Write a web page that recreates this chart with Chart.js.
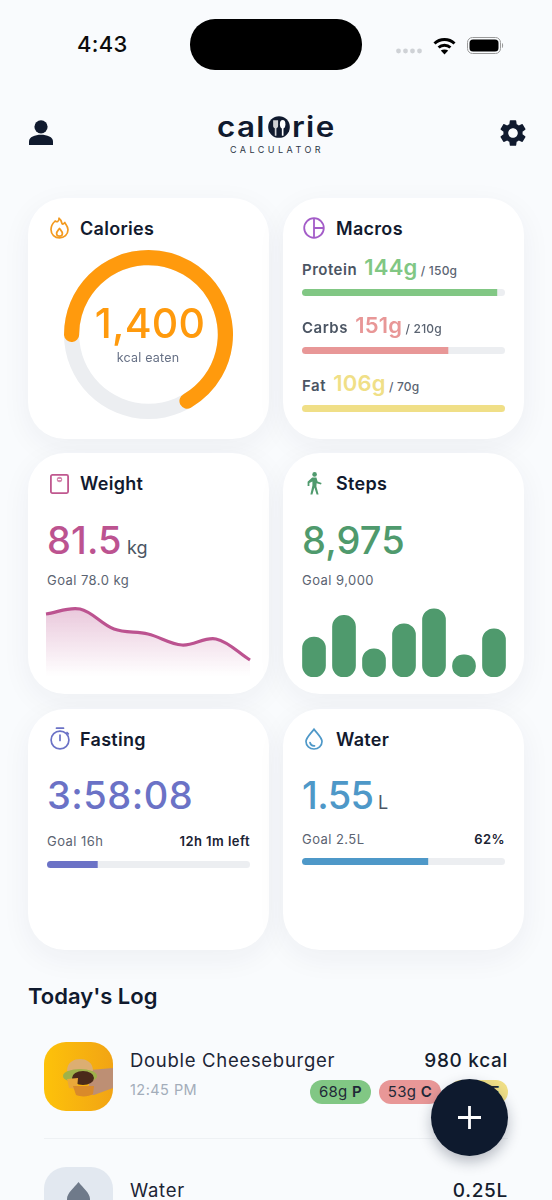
<!DOCTYPE html>
<html>
<head>
<meta charset="utf-8">
<script src="https://cdn.jsdelivr.net/npm/chart.js@4"></script>
<style>
  html, body { margin: 0; padding: 0; background: #f9fbfd; }
  body { width: 552px; height: 1200px; position: relative; overflow: hidden; font-family: Inter, "Noto Sans", sans-serif; color: #101a2e; }
  .t { position: absolute; white-space: nowrap; line-height: 1; }
  .r { text-align: right; }
  .card { position: absolute; width: 241px; height: 241px; background: #fff; border-radius: 37px; box-shadow: 0 8px 30px rgba(30, 45, 80, .055); }
  .title { font-size: 18px; font-weight: 600; letter-spacing: .3px; color: #121a2e; }
  .big { font-size: 38px; font-weight: 500; letter-spacing: .1px; }
  .unit { font-size: 18px; color: #4b5563; }
  .sub { font-size: 13px; color: #5b6472; letter-spacing: .45px; }
  .strong { font-size: 13px; font-weight: 600; color: #1b2333; letter-spacing: .45px; }
  .macro { font-size: 15px; font-weight: 600; color: #4b5563; letter-spacing: .5px; }
  .macro b { font-size: 22px; font-weight: 600; letter-spacing: .2px; margin: 0 0 0 3px; }
  .macro i { font-style: normal; font-size: 12px; font-weight: 500; color: #5b6472; letter-spacing: .2px; margin-left: -1px; }
  .pill { position: absolute; height: 24px; line-height: 24px; border-radius: 12px; font-size: 15px; text-align: center; color: #1f2937; letter-spacing: .3px; }
  .pill b { font-weight: 600; }
  canvas { position: absolute; display: block; }
  svg { position: absolute; overflow: visible; }
  .bar { border-radius: 3.5px; }
  .logo { font-size: 28px; font-weight: 600; letter-spacing: 1.2px; color: #101a2e; transform: scaleX(1.12); transform-origin: left; }
</style>
</head>
<body>

<!-- barra de estado -->
<div class="t" style="left:77px;top:33px;font-size:22px;font-weight:500;letter-spacing:.3px;color:#0c0c0c">4:43</div>
<div style="position:absolute;left:190px;top:19px;width:172px;height:51px;border-radius:25px;background:#000"></div>
<svg style="left:396px;top:48px" width="27" height="6"><g fill="#cfd2d6"><circle cx="2.5" cy="3" r="2.4"/><circle cx="9.5" cy="3" r="2.4"/><circle cx="16.5" cy="3" r="2.4"/><circle cx="23.5" cy="3" r="2.4"/></g></svg>
<svg style="left:433px;top:37px" width="23" height="18" viewBox="0 0 23 18"><g fill="none" stroke="#000" stroke-width="3"><path d="M1.5 6.5 C7 1.2 16 1.2 21.5 6.5"/><path d="M5.6 10.5 C8.8 7.6 14.2 7.6 17.4 10.5"/></g><path d="M11.5 17.5 L7.8 13.6 C9.8 12 13.2 12 15.2 13.6Z" fill="#000"/></svg>
<svg style="left:467px;top:37px" width="37" height="17"><rect x=".5" y=".5" width="33" height="16" rx="5" fill="none" stroke="#9a9a9a"/><rect x="2.5" y="2.5" width="29" height="12" rx="3.5" fill="#000"/><path d="M35 6 C36.5 6.5 36.5 10.5 35 11Z" fill="#9a9a9a"/></svg>

<!-- cabecera -->
<svg style="left:29px;top:120px" width="24" height="25" viewBox="0 0 24 25"><circle cx="12" cy="6.8" r="6.6" fill="#101a2e"/><path d="M0 25 V21.5 C0 17 6 14.8 12 14.8 S24 17 24 21.5 V25Z" fill="#101a2e"/></svg>
<div class="t logo" style="left:217px;top:113px">cal</div>
<svg style="left:268px;top:116px" width="22" height="22" viewBox="0 0 24 24"><circle cx="12" cy="12" r="11.8" fill="#101a2e"/><path d="M5.6 4.5 V11 C5.6 12.5 6.6 13 7.4 13.4 V21.5 H9.2 V13.4 C10 13 11 12.5 11 11 V4.5Z" fill="#fff" opacity=".8"/><ellipse cx="16" cy="9" rx="3" ry="4.6" fill="#fff"/><rect x="15.1" y="12" width="1.8" height="9.5" fill="#fff"/></svg>
<div class="t logo" style="left:292px;top:113px">rie</div>
<div class="t" style="left:230px;top:145px;font-size:9px;font-weight:400;letter-spacing:3.45px;color:#2d3646">CALCULATOR</div>
<svg style="left:497px;top:117px" width="32" height="32" viewBox="0 0 24 24"><path fill="#101a2e" d="M19.14 12.94c.04-.3.06-.61.06-.94 0-.32-.02-.64-.07-.94l2.03-1.58a.49.49 0 0 0 .12-.61l-1.92-3.32a.488.488 0 0 0-.59-.22l-2.39.96c-.5-.38-1.03-.7-1.62-.94l-.36-2.54a.484.484 0 0 0-.48-.41h-3.84c-.24 0-.43.17-.47.41l-.36 2.54c-.59.24-1.13.57-1.62.94l-2.39-.96c-.22-.08-.47 0-.59.22L2.74 8.87c-.12.21-.08.47.12.61l2.03 1.58c-.05.3-.09.63-.09.94s.02.64.07.94l-2.03 1.58a.49.49 0 0 0-.12.61l1.92 3.32c.12.22.37.29.59.22l2.39-.96c.5.38 1.03.7 1.62.94l.36 2.54c.05.24.24.41.48.41h3.84c.24 0 .44-.17.47-.41l.36-2.54c.59-.24 1.13-.56 1.62-.94l2.39.96c.22.08.47 0 .59-.22l1.92-3.32c.12-.22.07-.47-.12-.61l-2.01-1.58zM12 15.6c-1.98 0-3.6-1.62-3.6-3.6s1.62-3.6 3.6-3.6 3.6 1.62 3.6 3.6-1.62 3.6-3.6 3.6z"/></svg>

<!-- tarjetas -->
<div class="card" style="left:28px;top:198px"></div>
<div class="card" style="left:283px;top:198px"></div>
<div class="card" style="left:28px;top:453px"></div>
<div class="card" style="left:283px;top:453px"></div>
<div class="card" style="left:28px;top:709px"></div>
<div class="card" style="left:283px;top:709px"></div>

<!-- Calories -->
<svg style="left:50px;top:217px" width="19" height="22" viewBox="0 0 19 22"><g fill="none" stroke="#f39a1f" stroke-width="1.7" stroke-linejoin="round"><path d="M9 1.2 C9.5 4.5 6.5 5.5 5.2 4 C2.5 6.5 1 9 1 12.5 C1 17.5 4.8 20.8 9.5 20.8 S18 17.5 18 12.8 C18 9 15.5 7.5 14.8 5.5 C13.8 7 12.5 7.5 12 6.5 C11.5 4.5 11 2.5 9 1.2Z"/><path d="M9.5 11.5 C8 13.5 6.6 14.5 6.6 16.5 C6.6 18.2 8 19.2 9.5 19.2 S12.4 18.2 12.4 16.5 C12.4 14.5 11 13.5 9.5 11.5Z"/></g></svg>
<div class="t title" style="left:80px;top:220px">Calories</div>
<canvas id="calTrack" width="169" height="169" style="left:64px;top:250px"></canvas>
<canvas id="calRing" width="169" height="169" style="left:64px;top:250px"></canvas>
<div class="t" style="left:50px;width:200px;top:303px;text-align:center;font-size:41px;font-weight:500;letter-spacing:.2px;color:#ff9a0d">1,400</div>
<div class="t" style="left:48px;width:200px;top:352px;text-align:center;font-size:12.5px;letter-spacing:.2px;color:#667085">kcal eaten</div>

<!-- Macros -->
<svg style="left:303px;top:217px" width="22" height="22" viewBox="0 0 22 22"><g fill="none" stroke="#a35cc8" stroke-width="1.8"><circle cx="11" cy="11" r="9.8"/><path d="M11 1.2 V20.8 M11 11 H20.8"/></g></svg>
<div class="t title" style="left:336px;top:220px">Macros</div>
<div class="t macro" style="left:302px;top:256px">Protein <b style="color:#81c784">144g</b> <i>/ 150g</i></div>
<canvas id="barProtein" class="bar" width="203" height="7" style="left:302px;top:289px"></canvas>
<div class="t macro" style="left:302px;top:314px">Carbs <b style="color:#e89797">151g</b> <i>/ 210g</i></div>
<canvas id="barCarbs" class="bar" width="203" height="7" style="left:302px;top:347px"></canvas>
<div class="t macro" style="left:302px;top:372px">Fat <b style="color:#f0df87">106g</b> <i>/ 70g</i></div>
<canvas id="barFat" class="bar" width="203" height="7" style="left:302px;top:405px"></canvas>

<!-- Weight -->
<svg style="left:50px;top:474px" width="19" height="20" viewBox="0 0 19 20"><rect x=".9" y=".9" width="17.2" height="18.2" rx="1.5" fill="none" stroke="#c0588f" stroke-width="1.8"/><circle cx="9.5" cy="5.5" r="2.7" fill="#d58ab0"/><rect x="8" y="5" width="3" height="1" fill="#fff"/></svg>
<div class="t title" style="left:80px;top:475px">Weight</div>
<div class="t big" style="left:47px;top:521px;color:#bc5390">81.5</div>
<div class="t unit" style="left:127px;top:539px">kg</div>
<div class="t sub" style="left:47px;top:574px">Goal 78.0 kg</div>
<canvas id="weightLine" width="210" height="80" style="left:43px;top:600px"></canvas>

<!-- Steps -->
<svg style="left:306px;top:472px" width="17" height="23" viewBox="0 0 17 23"><circle cx="8.6" cy="2.4" r="2.3" fill="#4f9a6d"/><path d="M6.2 5.6 L10.4 5.6 L11.6 9.6 L15.6 11 L15 12.6 L10.6 11.2 L10.4 14.6 L12.6 22.6 L10.6 22.6 L8.4 15.6 L6.4 22.6 L4.4 22.6 L6.4 13.4 L6.4 9.6 L3.4 11 L3.4 14 L1.6 14 L1.6 9.8Z" fill="#4f9a6d"/></svg>
<div class="t title" style="left:336px;top:475px">Steps</div>
<div class="t big" style="left:302px;top:521px;color:#4f9a6d">8,975</div>
<div class="t sub" style="left:302px;top:574px">Goal 9,000</div>
<canvas id="stepsBars" width="210" height="72" style="left:298.5px;top:605px"></canvas>

<!-- Fasting -->
<svg style="left:50px;top:727px" width="20" height="23" viewBox="0 0 20 23"><g fill="none" stroke="#6b72c6" stroke-width="1.7"><circle cx="10" cy="13" r="8.9"/><path d="M6.5 1.2 H13.5 M10 8 V13.5 M17 5.5 L18.3 6.8" stroke-linecap="round"/></g></svg>
<div class="t title" style="left:80px;top:731px">Fasting</div>
<div class="t big" style="left:47px;top:776px;color:#6b72c6;letter-spacing:.5px">3:58:08</div>
<div class="t sub" style="left:47px;top:835px">Goal 16h</div>
<div class="t strong r" style="right:302px;top:835px">12h 1m left</div>
<canvas id="barFasting" class="bar" width="203" height="7" style="left:47px;top:861px"></canvas>

<!-- Water -->
<svg style="left:305px;top:728px" width="18" height="22" viewBox="0 0 18 22"><g fill="none" stroke="#4e98c8" stroke-width="1.7" stroke-linecap="round"><path d="M9 1.2 C6 5.5 1 9.5 1 13.5 C1 18 4.6 21 9 21 S17 18 17 13.5 C17 9.5 12 5.5 9 1.2Z"/><path d="M5 14.5 C5.5 16.8 7.5 18 9.5 17.8"/></g></svg>
<div class="t title" style="left:336px;top:731px">Water</div>
<div class="t big" style="left:302px;top:776px;color:#4e98c8;letter-spacing:-.6px">1.55</div>
<div class="t unit" style="left:378px;top:794px">L</div>
<div class="t sub" style="left:302px;top:833px">Goal 2.5L</div>
<div class="t strong r" style="right:47px;top:833px">62%</div>
<canvas id="barWater" class="bar" width="203" height="7" style="left:302px;top:858px"></canvas>

<!-- registro de hoy -->
<div class="t" style="left:28px;top:985px;font-size:22px;font-weight:600;color:#101a2e">Today's Log</div>

<svg style="left:44px;top:1042px" width="69" height="69" viewBox="0 0 69 69">
  <defs><clipPath id="thumb"><rect width="69" height="69" rx="22"/></clipPath><linearGradient id="yel" x1="0" y1="0" x2="1" y2="0"><stop offset="0" stop-color="#fdc20a"/><stop offset="1" stop-color="#f2a414"/></linearGradient></defs>
  <g clip-path="url(#thumb)">
    <rect width="69" height="69" fill="url(#yel)"/>
    <path d="M46 28 L69 26 V46 L50 53 L44 52Z" fill="#bd8f74"/>
    <path d="M23 29 C23 20 30 17 36 17 S49 20 49 29Z" fill="#dcae72"/>
    <ellipse cx="36" cy="34" rx="17" ry="7" fill="#9fb24a"/>
    <ellipse cx="39" cy="36" rx="11" ry="7" fill="#4a2a1a"/>
    <path d="M23 37 L34 36 L33 47 L25 46Z" fill="#eaa83a"/>
    <path d="M29 44 H50 L49 52 C45 55 36 55 32 53Z" fill="#d98a2a"/>
  </g>
</svg>
<div class="t" style="left:130px;top:1051px;font-size:18.5px;letter-spacing:.7px;color:#1c2435">Double Cheeseburger</div>
<div class="t" style="left:130px;top:1083px;font-size:14.5px;letter-spacing:.45px;color:#a3adba">12:45 PM</div>
<div class="t r" style="right:44px;top:1051px;font-size:19px;font-weight:500;letter-spacing:.7px;color:#151d2e">980 kcal</div>
<div class="pill" style="left:310px;top:1080px;width:61px;background:#81c784">68g <b>P</b></div>
<div class="pill" style="left:379px;top:1080px;width:62px;background:#e89797">53g <b>C</b></div>
<div class="pill" style="left:449px;top:1080px;width:59px;background:#f0df87">52g <b>F</b></div>
<div style="position:absolute;left:44px;top:1138px;width:464px;height:1px;background:#eef1f4"></div>

<svg style="left:44px;top:1167px" width="69" height="69"><rect width="69" height="69" rx="22" fill="#e2e8f0"/><path d="M34.5 15 C30 21 23 26 23 32 V40 H46 V32 C46 26 39 21 34.5 15Z" fill="#6f7a8a"/></svg>
<div class="t" style="left:130px;top:1181px;font-size:18.5px;letter-spacing:.7px;color:#1c2435">Water</div>
<div class="t r" style="right:44px;top:1181px;font-size:19px;font-weight:500;letter-spacing:.7px;color:#151d2e">0.25L</div>

<div style="position:absolute;left:431px;top:1079px;width:77px;height:77px;border-radius:50%;background:#0e1a2e;box-shadow:0 6px 14px rgba(15,25,45,.28)"></div>
<svg style="left:457px;top:1105px" width="25" height="25"><path d="M12.5 1 V24 M1 12.5 H24" stroke="#fff" stroke-width="2.8" fill="none"/></svg>

<script>
// datos
const calories = 1400;
const calorieGoal = 2100;

const proteinEaten = 144;
const proteinGoal = 150;
const carbsEaten = 151;
const carbsGoal = 210;
const fatEaten = 106;
const fatGoal = 70;

const weightDays = ['1', '2', '3', '4', '5', '6', '7'];
const weightValues = [83.8, 84.05, 83.05, 82.8, 82.25, 82.55, 81.5];

const stepDays = ['M', 'T', 'W', 'T', 'F', 'S', 'S'];
const stepValues = [7430, 11460, 5260, 9900, 12690, 4140, 8975];

const fastingHours = 3.97;
const fastingGoal = 16;
const waterLitres = 1.55;
const waterGoal = 2.5;

const TRACK = '#eceef1';

const base = {
  responsive: false,
  animation: false,
  events: [],
  plugins: { legend: { display: false }, tooltip: { enabled: false } }
};

// barra de progreso con su pista debajo; la esquina redonda la da el CSS del canvas
function progressBar(id, value, goal, color) {
  return new Chart(document.getElementById(id), {
    type: 'bar',
    data: {
      labels: [id],
      datasets: [
        { data: [value], backgroundColor: color, grouped: false, barPercentage: 1, categoryPercentage: 1 },
        { data: [goal], backgroundColor: TRACK, grouped: false, barPercentage: 1, categoryPercentage: 1 }
      ]
    },
    options: {
      ...base,
      indexAxis: 'y',
      scales: { x: { display: false, min: 0, max: goal }, y: { display: false } }
    }
  });
}

progressBar('barProtein', proteinEaten, proteinGoal, '#81c784');
progressBar('barCarbs', carbsEaten, carbsGoal, '#e89797');
progressBar('barFat', fatEaten, fatGoal, '#f0df87');
progressBar('barFasting', fastingHours, fastingGoal, '#6b72c6');
progressBar('barWater', waterLitres, waterGoal, '#4e98c8');

// anillo de calorías: pista completa y encima el arco con puntas redondas
new Chart(document.getElementById('calTrack'), {
  type: 'doughnut',
  data: { labels: ['goal'], datasets: [{ data: [calorieGoal], backgroundColor: TRACK, borderWidth: 0 }] },
  options: { ...base, cutout: '82%' }
});

const capDegrees = 5.6;
const capValue = calorieGoal * capDegrees / 360;
new Chart(document.getElementById('calRing'), {
  type: 'doughnut',
  data: {
    labels: ['eaten', 'left'],
    datasets: [{
      data: [calories + 2 * capValue, calorieGoal - calories - 2 * capValue],
      backgroundColor: ['#ff9a0d', 'transparent'],
      borderWidth: 0,
      borderRadius: [8, 0]
    }]
  },
  options: { ...base, cutout: '82%', rotation: -90 - capDegrees }
});

new Chart(document.getElementById('weightLine'), {
  type: 'line',
  data: {
    labels: weightDays,
    datasets: [{
      data: weightValues,
      borderColor: '#bc5390',
      borderWidth: 3.2,
      pointRadius: 0,
      tension: 0.35,
      fill: 'start',
      backgroundColor: (ctx) => {
        const grad = ctx.chart.ctx.createLinearGradient(0, 8, 0, 76);
        grad.addColorStop(0, 'rgba(188, 83, 144, .32)');
        grad.addColorStop(1, 'rgba(188, 83, 144, 0)');
        return grad;
      }
    }]
  },
  options: {
    ...base,
    layout: { padding: { left: 3, right: 3 } },
    scales: { x: { display: false }, y: { display: false, min: 80.5, max: 84.5 } }
  }
});

new Chart(document.getElementById('stepsBars'), {
  type: 'bar',
  data: {
    labels: stepDays,
    datasets: [{
      data: stepValues,
      backgroundColor: '#4f9a6d',
      barThickness: 23,
      borderRadius: 12,
      borderSkipped: false
    }]
  },
  options: {
    ...base,
    scales: { x: { display: false }, y: { display: false, min: 0, max: 13400 } }
  }
});
</script>
</body>
</html>
